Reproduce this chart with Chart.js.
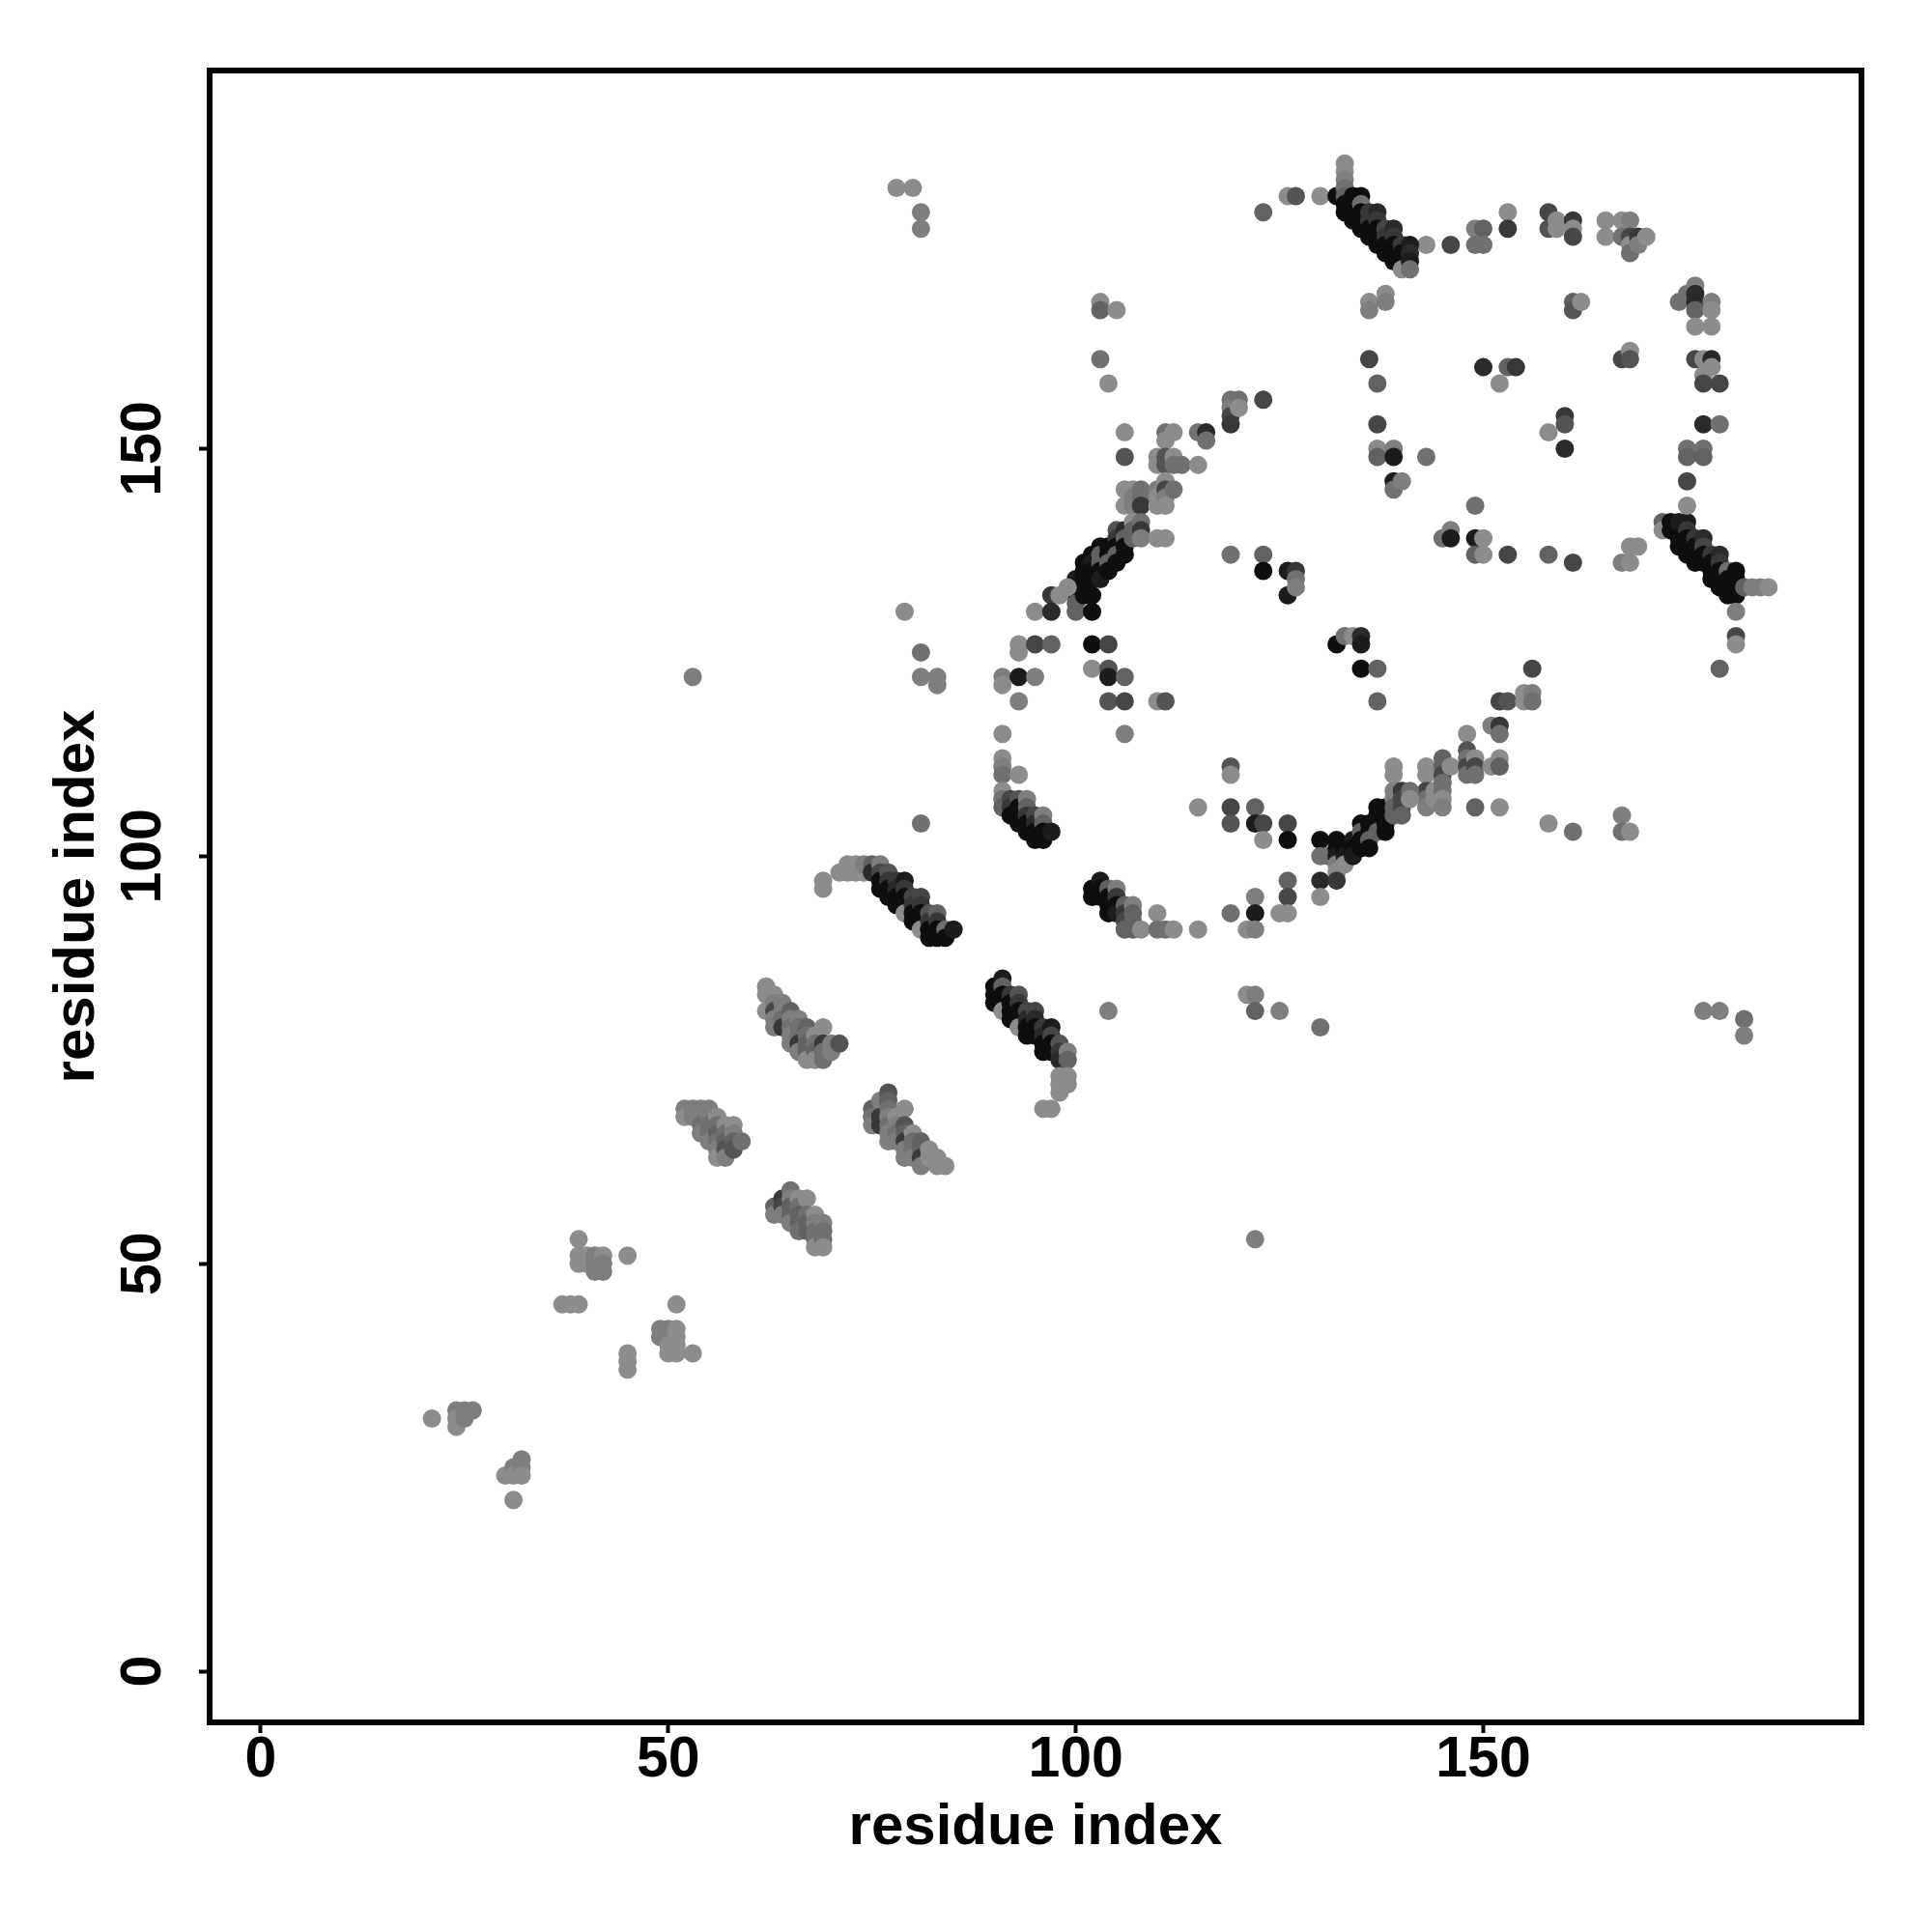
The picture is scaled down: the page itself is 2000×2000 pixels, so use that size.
<!DOCTYPE html>
<html>
<head>
<meta charset="utf-8">
<title>contact map</title>
<script src="https://cdn.jsdelivr.net/npm/chart.js@4"></script>
<style>
  html, body { margin: 0; padding: 0; background: #fff; }
  #wrap { width: 2000px; height: 2000px; }
</style>
</head>
<body>
<div id="wrap"><canvas id="contacts" width="2000" height="2000"></canvas></div>
<script>
// contact lists: [residue i, residue j, score 0-9]
// score 0 is the palest contact, 9 the strongest. order = drawing order
const lowContacts = [[21,31,0],[24,32,1],[24,31,0],[24,30,0],[25,32,1],[25,31,1],[26,32,1],[30,24,0],[31,25,1],[31,24,0],[31,21,0],[32,26,1],[32,25,1],[32,24,0]];
const loopContacts = [[37,45,0],[38,45,0],[39,45,0],[39,53,0],[39,51,0],[39,50,0],[40,51,0],[40,50,0],[41,51,1],[41,50,1],[41,49,1],[42,51,0],[42,50,1],[42,49,1],[45,51,0],[45,39,0],[45,38,0],[45,37,0],[49,42,1],[49,41,1],[50,42,1],[50,41,1],[50,40,0],[50,39,0],[51,45,0],[51,42,0],[51,41,0],[51,40,0],[51,39,0],[53,39,0]];
const strandD = [[52,69,1],[52,68,0],[53,69,1],[53,68,1],[54,69,1],[54,68,1],[54,67,2],[54,66,1],[55,69,1],[55,68,1],[55,67,2],[55,66,2],[55,65,1],[56,68,0],[56,67,2],[56,66,3],[56,65,2],[56,64,1],[56,63,0],[57,67,0],[57,66,2],[57,65,3],[57,64,4],[57,63,1],[58,67,0],[58,66,1],[58,65,3],[58,64,4],[59,65,2]];
const strandF = [[63,57,3],[63,56,1],[64,58,6],[64,57,5],[64,56,1],[65,59,2],[65,58,1],[65,57,3],[65,56,3],[65,55,1],[66,58,0],[66,57,2],[66,56,3],[66,55,3],[66,54,2],[67,58,0],[67,56,2],[67,55,3],[67,54,3],[68,56,0],[68,55,1],[68,54,2],[68,53,2],[68,52,0],[69,55,1],[69,54,2],[69,53,2],[69,52,0]];
const strandC = [[62,84,0],[62,83,0],[62,81,0],[63,83,0],[63,82,1],[63,81,5],[63,80,1],[63,79,1],[64,82,1],[64,81,1],[64,80,2],[64,79,6],[65,81,3],[65,80,1],[65,79,2],[65,78,1],[65,77,1],[66,80,1],[66,79,2],[66,78,2],[66,77,6],[66,76,1],[67,79,3],[67,78,2],[67,77,3],[67,76,3],[67,75,0],[68,78,0],[68,77,2],[68,76,3],[68,75,0],[69,79,0],[69,77,6],[69,76,2],[69,75,2],[70,77,1],[70,76,1],[71,77,4]];
const strandE = [[75,69,3],[75,68,2],[75,67,1],[76,70,1],[76,68,6],[76,67,6],[77,71,4],[77,70,3],[77,69,2],[77,68,1],[77,67,2],[77,66,1],[77,65,1],[78,68,0],[78,67,1],[78,66,2],[78,65,1],[79,69,0],[79,67,4],[79,66,3],[79,65,6],[79,64,1],[79,63,1],[80,66,0],[80,65,2],[80,64,2],[80,63,1],[81,65,3],[81,64,3],[81,63,6],[81,62,1],[82,64,0],[82,63,0],[83,63,0],[83,62,0],[84,62,0]];
const helixA = [[69,97,0],[69,96,0],[71,98,0],[72,99,0],[72,98,0],[73,99,0],[73,98,0],[74,98,0],[74,99,1],[75,99,3],[75,98,7],[76,99,1],[76,98,5],[76,97,9],[76,96,9],[77,98,4],[77,97,6],[77,96,9],[77,95,9],[78,97,6],[78,96,7],[78,95,9],[78,94,9],[79,97,8],[79,96,6],[79,95,9],[79,94,9],[79,93,0],[80,95,5],[80,94,6],[80,93,9],[80,92,9],[81,95,5],[81,94,6],[81,93,9],[81,92,9],[81,91,0],[82,93,4],[82,92,6],[82,91,9],[82,90,9],[83,93,3],[83,92,6],[83,91,9],[83,90,9],[84,91,2],[84,90,9],[85,91,8]];
const helixB = [[90,84,9],[90,83,9],[90,82,9],[91,85,8],[91,84,3],[91,83,9],[91,82,9],[91,81,0],[92,83,6],[92,82,9],[92,81,9],[92,80,9],[93,83,4],[93,82,6],[93,81,9],[93,80,9],[93,79,0],[94,81,5],[94,80,7],[94,79,9],[94,78,9],[95,81,5],[95,80,7],[95,79,9],[95,78,9],[96,79,6],[96,78,7],[96,77,9],[96,76,9],[97,79,8],[97,78,5],[97,77,9],[97,76,9],[98,77,4],[98,76,6],[98,75,7],[98,73,0],[98,72,0],[98,71,0],[99,76,1],[99,75,3],[99,73,0],[99,72,0],[96,69,0],[97,69,0]];
const helixC = [[91,112,0],[91,111,1],[91,110,2],[91,108,0],[91,107,2],[91,106,3],[92,107,5],[92,106,6],[92,105,9],[93,110,0],[93,107,4],[93,106,9],[93,105,9],[93,104,9],[94,107,1],[94,106,3],[94,105,6],[94,104,9],[94,103,9],[95,105,5],[95,104,7],[95,103,9],[95,102,9],[96,105,1],[96,104,3],[96,103,9],[96,102,9],[97,103,8]];
const helixD = [[102,96,9],[102,95,9],[103,97,8],[103,96,9],[103,95,9],[104,96,3],[104,95,9],[104,94,9],[104,93,9],[105,96,1],[105,95,6],[105,94,9],[105,93,8],[106,94,3],[106,93,6],[106,92,5],[106,91,3],[107,94,1],[107,93,3],[107,92,3],[107,91,3],[108,91,0],[110,93,0],[110,91,2],[111,91,2],[112,91,0],[115,91,0],[121,91,0],[122,91,1]];
const ringWest = [[53,122,1],[79,130,0],[81,125,2],[81,122,1],[83,122,1],[83,121,1],[81,104,2],[91,122,1],[91,121,0],[91,115,0],[93,126,0],[93,125,0],[93,122,8],[93,119,1],[95,130,0],[95,126,5],[95,122,1],[97,132,6],[97,130,7],[97,126,3],[98,132,0],[99,133,0],[102,123,0],[102,126,9],[104,126,5],[104,123,4],[104,122,8],[104,119,4],[106,122,3],[106,119,5],[106,115,1],[110,119,0],[111,119,4]];
const helixG = [[100,134,8],[100,133,9],[100,132,9],[100,131,3],[100,130,3],[101,136,9],[101,135,9],[101,134,9],[101,133,9],[101,132,9],[102,137,9],[102,136,8],[102,135,9],[102,134,9],[102,132,9],[102,130,9],[103,138,9],[103,137,3],[103,136,3],[103,135,9],[103,134,8],[104,138,9],[104,137,9],[104,136,3],[104,135,9],[105,140,4],[105,139,6],[105,138,9],[105,137,3],[105,136,9],[106,140,7],[106,139,3],[106,138,9],[106,137,9],[107,141,0],[107,140,3],[107,139,3],[108,141,2],[108,140,6],[108,139,1],[110,139,0],[111,139,0]];
const ridgeNorth = [[103,168,0],[103,167,3],[105,167,0],[103,161,2],[104,158,0],[106,152,0],[106,149,4],[106,145,0],[106,143,0],[107,145,0],[107,144,1],[107,143,1],[108,145,2],[108,144,2],[108,143,6],[110,149,0],[110,148,0],[110,145,1],[110,144,0],[110,143,0],[111,152,2],[111,151,0],[111,149,4],[111,148,4],[111,146,0],[111,145,5],[111,144,1],[111,143,0],[112,152,0],[112,149,0],[112,148,2],[112,145,2],[113,148,2],[115,152,2],[115,148,0],[116,152,7],[116,151,2],[119,156,2],[119,155,1],[119,154,5],[119,153,6],[120,156,2],[120,155,0],[123,156,5]];
const ringMiddle = [[115,106,0],[119,111,4],[119,110,0],[119,106,5],[119,104,4],[119,93,2],[119,137,2],[121,83,0],[122,106,3],[122,104,8],[122,95,1],[122,93,8],[122,83,1],[122,81,3],[122,53,1],[123,104,5],[123,102,0],[123,137,3],[123,135,9],[125,93,0],[125,81,1],[126,104,5],[126,102,9],[126,97,3],[126,95,5],[126,93,0],[126,135,8],[126,132,8],[127,135,6],[127,134,2],[127,133,1],[130,79,2],[104,81,1]];
const helixF = [[130,102,9],[130,100,2],[130,97,7],[130,95,0],[131,100,2],[132,102,9],[132,101,9],[132,100,8],[132,99,1],[132,98,0],[132,97,6],[133,101,9],[133,100,8],[133,99,0],[134,102,8],[134,101,9],[134,100,8],[135,104,9],[135,103,3],[135,102,9],[135,101,9],[136,104,9],[136,103,9],[136,102,3],[136,101,9],[137,106,9],[137,105,9],[137,104,9],[137,103,3],[138,106,9],[138,105,9],[138,104,9],[138,103,9],[139,111,0],[139,110,0],[139,108,1],[139,107,1],[139,106,3],[139,105,3],[140,108,6],[140,107,5],[140,106,5],[140,105,3],[141,108,2],[141,107,0]];
const ridgeEast = [[143,111,0],[143,110,0],[143,108,5],[143,107,2],[143,106,1],[144,108,0],[144,107,0],[145,112,3],[145,111,3],[145,110,5],[145,109,2],[145,108,2],[145,107,0],[145,106,1],[146,111,0],[148,115,0],[148,113,4],[148,112,2],[148,111,5],[148,110,2],[149,143,2],[149,112,0],[149,111,5],[149,110,2],[149,106,3],[151,116,1],[151,111,0],[152,119,5],[152,116,6],[152,115,2],[152,112,0],[152,111,3],[152,106,0],[153,119,4],[155,120,0],[155,119,0],[156,123,5],[156,120,1],[156,119,2],[158,104,0],[161,103,2],[167,105,1],[167,103,2],[168,103,0]];
const helixTop = [[123,179,3],[126,181,0],[127,181,4],[130,181,0],[132,181,9],[133,185,0],[133,184,0],[133,183,1],[133,182,2],[133,181,3],[133,180,9],[133,179,9],[134,181,9],[134,180,9],[134,179,9],[134,178,9],[135,181,9],[135,180,2],[135,179,9],[135,178,9],[135,177,9],[136,179,6],[136,178,6],[136,177,9],[136,176,9],[137,179,7],[137,178,6],[137,177,9],[137,176,9],[137,175,9],[138,177,5],[138,176,6],[138,175,9],[138,174,9],[139,177,7],[139,176,6],[139,175,9],[139,174,9],[139,173,9],[140,175,6],[140,174,9],[140,173,9],[140,172,0],[141,175,8],[141,174,7],[141,173,8],[141,172,2]];
const ridgeTop = [[78,182,0],[80,182,0],[81,179,1],[81,177,1],[136,168,0],[136,167,1],[136,161,5],[137,158,3],[137,153,5],[137,150,0],[137,149,3],[138,169,0],[138,168,1],[139,150,1],[139,149,8],[139,146,8],[139,145,2],[140,146,1],[143,175,0],[143,149,2],[146,175,5],[149,177,1],[149,175,2],[150,177,3],[150,175,2],[150,160,7],[153,179,0],[153,177,6],[153,160,3],[154,160,6],[152,158,0],[158,179,5],[158,177,4],[158,152,0],[159,178,0],[159,177,0],[160,154,6],[160,153,4],[160,150,7],[161,178,6],[161,177,0],[161,176,5],[161,168,3],[161,167,4],[162,168,0],[165,178,0],[165,176,0],[167,178,0],[167,176,2],[167,161,5],[168,178,1],[168,176,5],[168,175,0],[168,174,2],[168,162,0],[168,161,4],[169,176,6],[169,175,1],[170,176,0]];
const ridgeSide = [[145,139,2],[146,140,1],[146,139,8],[149,139,8],[150,139,0],[149,137,3],[150,137,0],[153,137,5],[158,137,3],[161,136,5],[167,136,1],[168,138,0],[168,136,0],[169,138,0],[174,168,2],[175,169,2],[176,170,1],[176,169,7],[176,168,7],[176,167,3],[176,165,0],[178,168,1],[178,167,0],[178,165,0],[176,161,5],[177,161,0],[178,161,7],[178,160,0],[177,159,0],[177,158,5],[179,158,5],[177,153,7],[179,153,2],[175,150,2],[175,149,3],[177,150,2],[177,149,3],[175,146,5],[175,143,0],[177,81,1],[179,81,1],[182,80,2],[182,78,1],[132,126,9],[133,127,2],[134,127,0],[135,127,7],[135,126,8],[135,123,9],[137,123,3],[137,119,3]];
const helixE = [[172,141,3],[172,140,0],[173,141,9],[173,140,9],[174,141,8],[174,139,9],[174,138,9],[175,141,8],[175,140,6],[175,139,9],[175,138,9],[175,137,9],[176,139,6],[176,138,9],[176,137,9],[176,136,9],[177,139,7],[177,138,5],[177,137,9],[177,136,9],[178,137,6],[178,136,9],[178,135,9],[178,134,9],[179,137,7],[179,136,6],[179,135,9],[179,134,9],[179,133,9],[180,135,2],[180,134,9],[180,133,9],[180,132,9],[181,135,9],[181,134,9],[181,133,9],[181,132,9],[182,133,3],[183,133,1],[184,133,1],[185,133,0],[181,130,1],[181,127,5],[181,126,0],[179,123,3]];

const contactGroups = [lowContacts, loopContacts, strandD, strandF, strandC, strandE, helixA, helixB, helixC, helixD, ringWest, helixG, ridgeNorth, ringMiddle, helixF, ridgeEast, helixTop, ridgeTop, ridgeSide, helixE];

const xTicks = [0, 50, 100, 150];
const yTicks = [0, 50, 100, 150];
const axisTitle = "residue index";

// score to grey, 0 -> rgb(140) and 9 -> rgb(14)
function scoreToGrey(score){
    let g = 140 - 14*score;
    return "rgb("+g+","+g+","+g+")";
}

// the heavy box round the plot
const frameBox = {
    id: "frameBox",
    afterDraw(chart){
        const a = chart.chartArea;
        const ctx = chart.ctx;
        ctx.save();
        ctx.strokeStyle = "#000";
        ctx.lineWidth = 6;
        ctx.strokeRect(a.left, a.top, a.right-a.left, a.bottom-a.top);
        ctx.restore();
    }
};

const tickFont = { family: "Liberation Sans", weight: "bold", size: 59 };
const titleFont = { family: "Liberation Sans", weight: "bold", size: 60 };
const tickGrid = { display: true, drawOnChartArea: false, drawTicks: true, tickLength: 11, tickWidth: 4, tickColor: "#000" };

new Chart(document.getElementById("contacts"), {
    type: "scatter",
    data: {
        datasets: contactGroups.map(function(group){
            return {
                data: group.map(function(c){ return { x: c[0], y: c[1] }; }),
                backgroundColor: group.map(function(c){ return scoreToGrey(c[2]); }),
                pointRadius: 9.5,
                pointHoverRadius: 9.5,
                pointBorderWidth: 0
            };
        })
    },
    options: {
        responsive: false,
        animation: false,
        layout: { padding: { top: 73, right: 73, left: 0, bottom: 0 } },
        plugins: { legend: { display: false }, tooltip: { enabled: false } },
        scales: {
            x: {
                type: "linear",
                min: -6.28,
                max: 196.4,
                afterBuildTicks(scale){ scale.ticks = xTicks.map(function(v){ return { value: v }; }); },
                afterFit(scale){ scale.height = 217; },
                grid: tickGrid,
                border: { display: false },
                ticks: { color: "#000", font: tickFont, padding: -7, maxRotation: 0, autoSkip: false },
                title: { display: true, text: axisTitle, color: "#000", font: titleFont, padding: { top: 0, bottom: 72 } }
            },
            y: {
                type: "linear",
                min: -6.28,
                max: 196.4,
                afterBuildTicks(scale){ scale.ticks = yTicks.map(function(v){ return { value: v }; }); },
                afterFit(scale){ scale.width = 217; },
                grid: tickGrid,
                border: { display: false },
                ticks: { color: "#000", font: tickFont, padding: 7, minRotation: 90, maxRotation: 90, crossAlign: "center", autoSkip: false },
                title: { display: true, text: axisTitle, color: "#000", font: titleFont, padding: { top: 44, bottom: 0 } }
            }
        }
    },
    plugins: [frameBox]
});
</script>
</body>
</html>
